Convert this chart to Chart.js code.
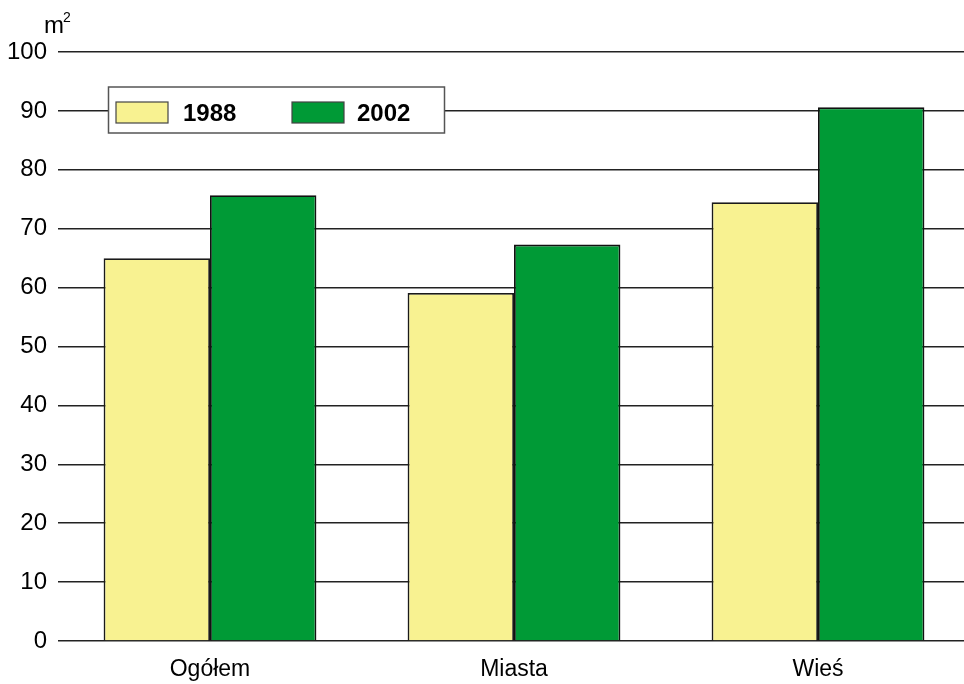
<!DOCTYPE html>
<html>
<head>
<meta charset="utf-8">
<script src="https://cdn.jsdelivr.net/npm/chart.js@4.4.0/dist/chart.umd.min.js"></script>
<style>
  html, body { margin: 0; padding: 0; background: #fff; overflow: hidden; }
  #wrap { width: 964px; height: 684px; position: relative; overflow: hidden; }
</style>
</head>
<body>
<div id="wrap"><canvas id="myBarChart" width="970" height="684"></canvas></div>
<script>
const categories = ['Ogółem', 'Miasta', 'Wieś'];
const series1988 = [65.0, 59.1, 74.5];
const series2002 = [75.7, 67.3, 90.6];
const seriesLabels = ['1988', '2002'];
const yTicks = [0, 10, 20, 30, 40, 50, 60, 70, 80, 90, 100];

const FONT = "'Liberation Sans', Arial, sans-serif";

// legend box + unit label drawn on top
const extras = {
    id: 'extras',
    afterDraw(chart) {
        const ctx = chart.ctx;
        ctx.save();
        // unit
        ctx.fillStyle = '#000';
        ctx.font = '24px ' + FONT;
        ctx.textBaseline = 'alphabetic';
        ctx.textAlign = 'left';
        ctx.fillText('m', 44, 33);
        ctx.font = '14px ' + FONT;
        ctx.fillText('2', 63, 22);

        // legend
        ctx.fillStyle = '#fff';
        ctx.fillRect(108.5, 87, 336, 46);
        ctx.strokeStyle = '#555';
        ctx.lineWidth = 1.5;
        ctx.strokeRect(108.5, 87, 336, 46);
        const swX = [116, 292];
        const txX = [183, 357];
        chart.data.datasets.forEach((ds, i) => {
            ctx.fillStyle = ds.backgroundColor;
            ctx.fillRect(swX[i], 102, 52, 21);
            ctx.strokeStyle = '#444';
            ctx.lineWidth = 1.2;
            ctx.strokeRect(swX[i], 102, 52, 21);
            ctx.fillStyle = '#000';
            ctx.font = 'bold 24px ' + FONT;
            ctx.textBaseline = 'middle';
            ctx.fillText(ds.label, txX[i], 114);
        });
        ctx.restore();
    }
};

document.addEventListener('DOMContentLoaded', function () {
    const ctx = document.getElementById('myBarChart').getContext('2d');
    new Chart(ctx, {
        type: 'bar',
        data: {
            labels: categories,
            datasets: [{
                label: seriesLabels[0],
                data: series1988,
                backgroundColor: '#f8f291',
                borderColor: '#1a1a1a',
                borderWidth: 1.8
            }, {
                label: seriesLabels[1],
                data: series2002,
                backgroundColor: '#009a36',
                borderColor: '#111',
                borderWidth: 1.8
            }]
        },
        options: {
            responsive: false,
            animation: false,
            layout: { padding: { top: 52, right: 0, left: 0, bottom: 0 } },
            datasets: { bar: { barPercentage: 1.0, categoryPercentage: 0.70 } },
            plugins: {
                legend: { display: false },
                tooltip: { enabled: false }
            },
            scales: {
                x: {
                    grid: { display: false },
                    border: { display: false },
                    ticks: { color: '#000', font: { family: FONT, size: 23 }, padding: 7 },
                    afterFit: s => { s.height = 43; }
                },
                y: {
                    min: 0,
                    max: 100,
                    afterBuildTicks: s => { s.ticks = yTicks.map(v => ({ value: v })); },
                    grid: { color: '#222', lineWidth: 1.5, drawTicks: false },
                    border: { display: false },
                    ticks: { color: '#000', font: { family: FONT, size: 24 }, padding: 11 },
                    afterFit: s => { s.width = 58; }
                }
            }
        },
        plugins: [extras]
    });
});
</script>
</body>
</html>
